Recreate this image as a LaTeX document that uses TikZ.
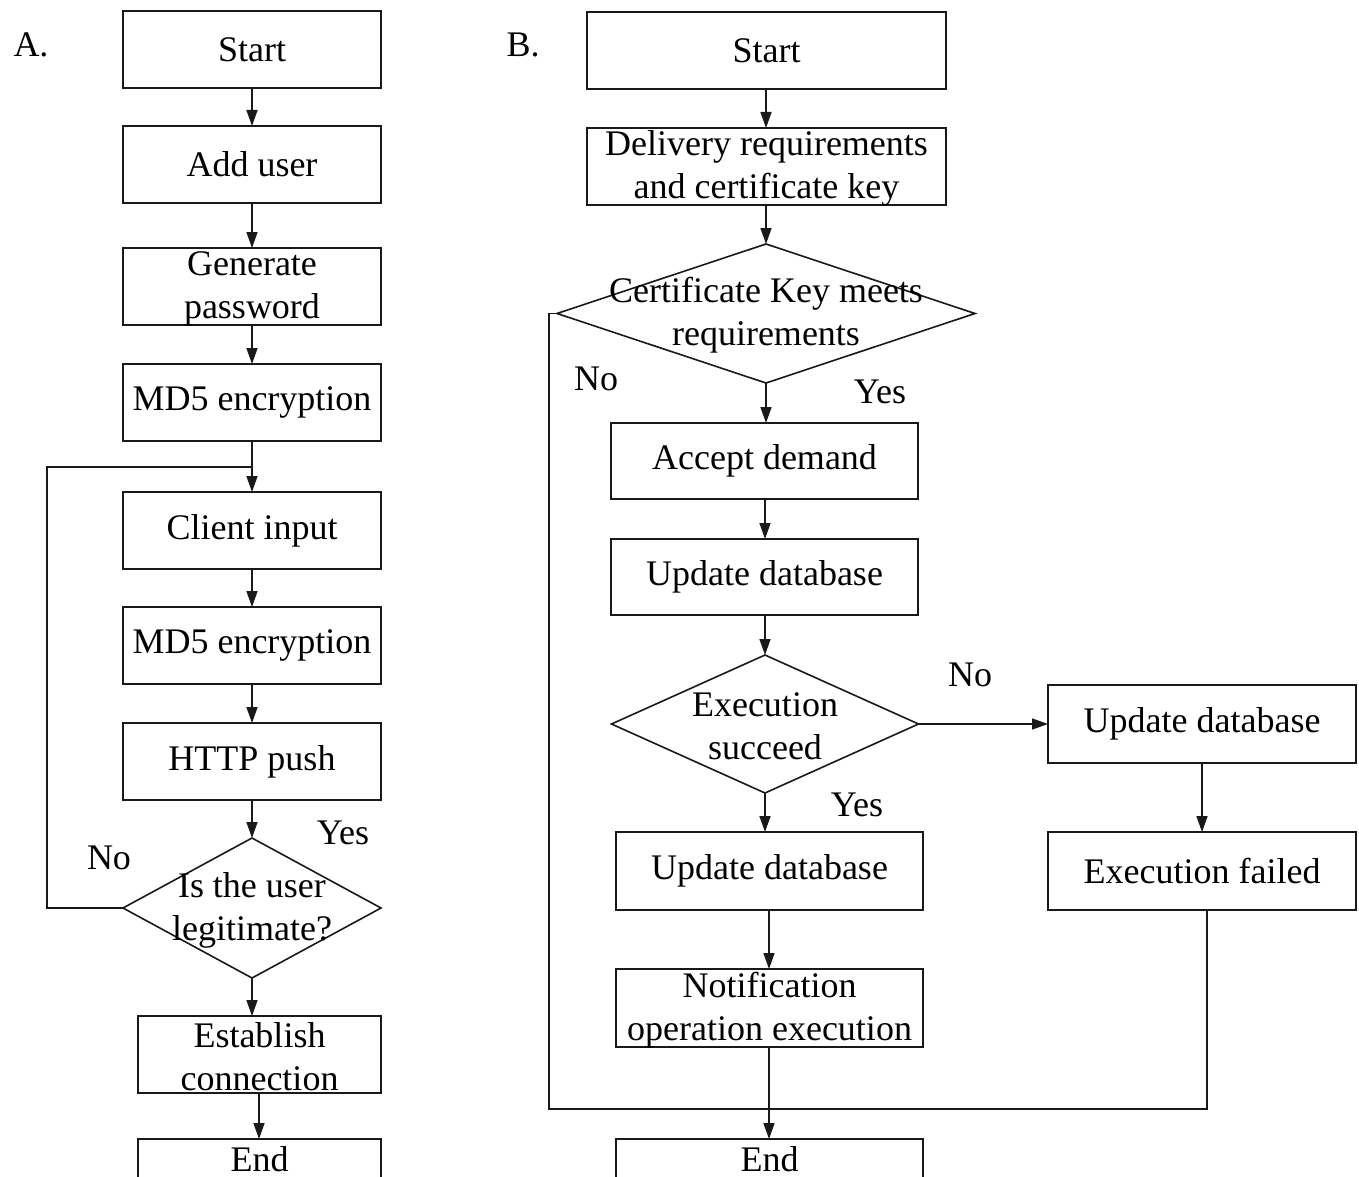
\documentclass[tikz,border=0pt]{standalone}
\usepackage{fontspec}
\setmainfont{Liberation Serif}
\usetikzlibrary{shapes.geometric,arrows.meta}

\tikzset{
  txt/.style={font=\fontsize{36}{43}\selectfont, align=center, inner sep=0pt, text=black},
  txttwo/.style={txt, yshift=-2pt},
  stepbox/.style={draw=black!90, line width=1.6pt, rectangle, inner sep=0pt, outer sep=0pt},
  decision/.style={draw=black!90, line width=1.6pt, diamond, inner sep=0pt, outer sep=0pt},
  flow/.style={draw=black!90, line width=1.6pt, -{Triangle[length=16pt,width=11pt]}},
  link/.style={draw=black!90, line width=1.6pt},
}

\begin{document}
\begin{tikzpicture}[x=1pt, y=-1pt]
\useasboundingbox (0,0) rectangle (1359,1177);
\clip (0,0) rectangle (1359,1177);

% ---------- Panel A: login flow ----------
\node[txt] (labA) at (31,45) {A.};

\node[stepbox, minimum width=258pt, minimum height=77pt, label={[txt]center:Start}] (a1) at (252,49.5) {};
\node[stepbox, minimum width=258pt, minimum height=77pt, label={[txt]center:Add user}] (a2) at (252,164.5) {};
\node[stepbox, minimum width=258pt, minimum height=77pt, label={[txttwo]center:Generate\\password}] (a3) at (252,286.5) {};
\node[stepbox, minimum width=258pt, minimum height=77pt, label={[txt]center:MD5 encryption}] (a4) at (252,402.5) {};
\node[stepbox, minimum width=258pt, minimum height=77pt, label={[txt]center:Client input}] (a5) at (252,530.5) {};
\node[stepbox, minimum width=258pt, minimum height=77pt, label={[txt]center:MD5 encryption}] (a6) at (252,645.5) {};
\node[stepbox, minimum width=258pt, minimum height=77pt, label={[txt]center:HTTP push}] (a7) at (252,761.5) {};
\node[decision, minimum width=258pt, minimum height=140pt] (dA) at (252,908) {};
\node[txttwo] (dAtext) at (dA.center) {Is the user\\legitimate?};
\node[stepbox, minimum width=243pt, minimum height=77pt, label={[txttwo]center:Establish\\connection}] (a8) at (259.5,1054.5) {};
\node[stepbox, minimum width=243pt, minimum height=40pt, label={[txt]center:End}] (a9) at (259.5,1159) {};

\node[txt] (yesA) at (343,833) {Yes};
\node[txt] (noA) at (109,858) {No};

\draw[flow] (a1) -- (a2);
\draw[flow] (a2) -- (a3);
\draw[flow] (a3) -- (a4);
\draw[flow] (a4) -- (a5);
\draw[flow] (a5) -- (a6);
\draw[flow] (a6) -- (a7);
\draw[flow] (a7) -- (dA);
\draw[flow] (dA.south) -- (dA.south |- a8.north);
\draw[flow] ([xshift=-0.5pt]a8.south) -- ([xshift=-0.5pt]a9.north);

\coordinate (jA) at (47,467);
\draw[link] (dA.west) -| (jA) -- (a4.south |- jA);

% ---------- Panel B: request handling flow ----------
\node[txt] (labB) at (523,45) {B.};

\node[stepbox, minimum width=359pt, minimum height=77pt, label={[txt]center:Start}] (b1) at (766.5,50.5) {};
\node[stepbox, minimum width=359pt, minimum height=77pt, label={[txttwo]center:Delivery requirements\\and certificate key}] (b2) at (766.5,166.5) {};
\node[decision, minimum width=418pt, minimum height=139pt] (dB1) at (766,313.5) {};
\node[txttwo] (dB1text) at (dB1.center) {Certificate Key meets\\requirements};
\node[stepbox, minimum width=307pt, minimum height=76pt, label={[txt]center:Accept demand}] (b3) at (764.5,461) {};
\node[stepbox, minimum width=307pt, minimum height=76pt, label={[txt]center:Update database}] (b4) at (764.5,577) {};
\node[decision, minimum width=307pt, minimum height=138pt] (dB2) at (765,724) {};
\node[txttwo] (dB2text) at (dB2.center) {Execution\\succeed};
\node[stepbox, minimum width=308pt, minimum height=78pt, label={[txt]center:Update database}] (r1) at (1202,724) {};
\node[stepbox, minimum width=308pt, minimum height=78pt, label={[txt]center:Execution failed}] (r2) at (1202,871) {};
\node[stepbox, minimum width=307pt, minimum height=78pt, label={[txt]center:Update database}] (b5) at (769.5,871) {};
\node[stepbox, minimum width=307pt, minimum height=78pt, label={[txttwo]center:Notification\\operation execution}] (b6) at (769.5,1008) {};
\node[stepbox, minimum width=307pt, minimum height=40pt, label={[txt]center:End}] (b7) at (769.5,1159) {};

\node[txt] (noB1) at (596,379) {No};
\node[txt] (yesB1) at (880,392) {Yes};
\node[txt] (noB2) at (970,675) {No};
\node[txt] (yesB2) at (857,805) {Yes};

\draw[flow] (b1.south -| dB1.north) -- (b2.north -| dB1.north);
\draw[flow] (b2.south -| dB1.north) -- (dB1.north);
\draw[flow] (dB1.south) -- (dB1.south |- b3.north);
\draw[flow] ([xshift=0.5pt]b3.south) -- ([xshift=0.5pt]b4.north);
\draw[flow] (b4.south -| dB2.north) -- (dB2.north);
\draw[flow] (dB2.east) -- (dB2.east -| r1.west);
\draw[flow] (r1) -- (r2);
\draw[flow] (dB2.south) -- (dB2.south |- b5.north);
\draw[flow] ([xshift=-0.5pt]b5.south) -- ([xshift=-0.5pt]b6.north);
\draw[flow] ([xshift=-0.5pt]b6.south) -- ([xshift=-0.5pt]b7.north);

\coordinate (jB) at (549,1109);
\coordinate (failOut) at (1207,910);
\draw[link] (failOut) |- (jB) |- (dB1.west);
\end{tikzpicture}
\end{document}
